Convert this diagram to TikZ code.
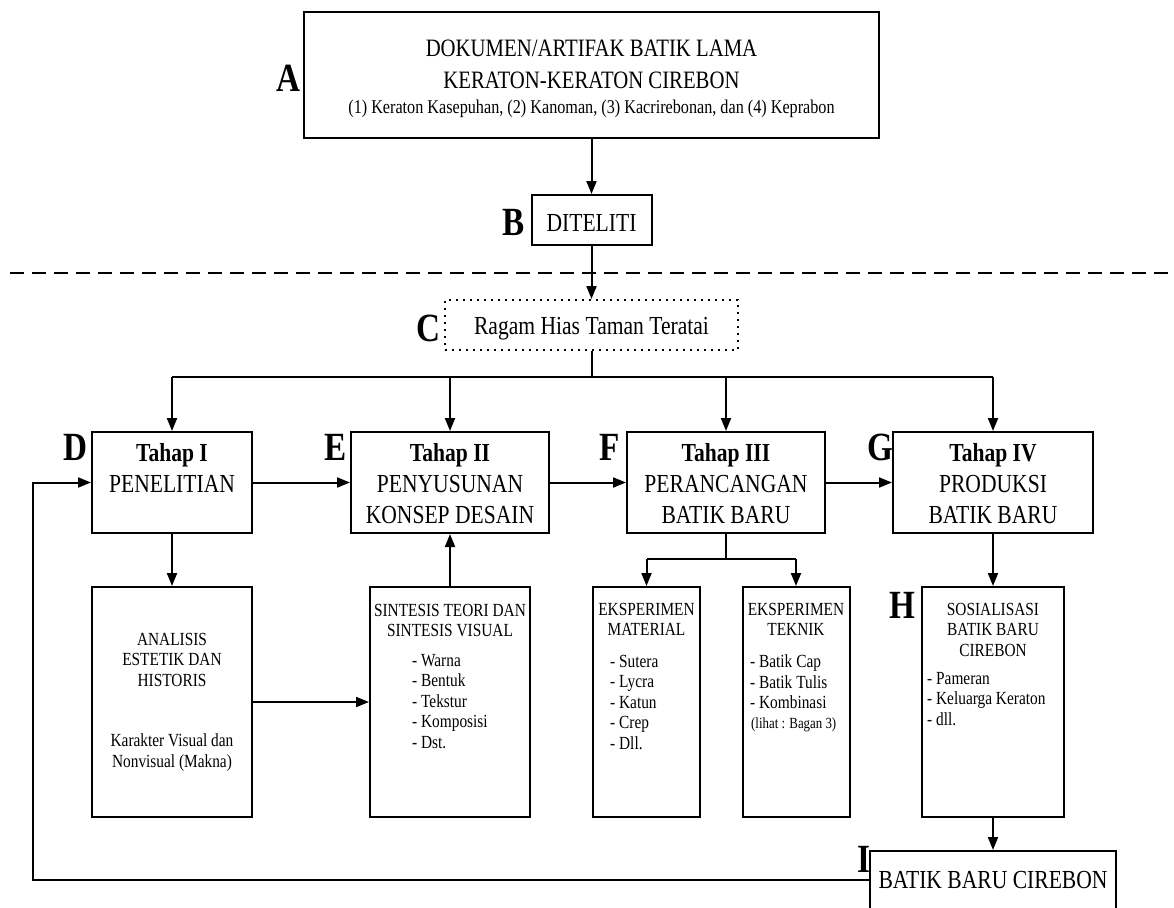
\documentclass[tikz,border=0pt]{standalone}
\usepackage{fontspec}
\setmainfont{Liberation Serif}[FakeStretch=0.83]
\usetikzlibrary{arrows.meta,positioning}

\begin{document}
\begin{tikzpicture}[x=1pt,y=-1pt,
    box/.style={draw,line width=2pt,inner sep=0pt},
    ln/.style={line width=2pt},
    arr/.style={line width=2pt,-{Triangle[length=13pt,width=10pt]}},
    tag/.style={font=\fontsize{40}{40}\selectfont\bfseries,inner sep=0pt,anchor=base},
    big/.style={font=\fontsize{26}{31}\selectfont,align=center,inner sep=0pt},
    small/.style={font=\fontsize{18.5}{20.5}\selectfont,inner sep=0pt}]
  \path[use as bounding box] (0,0) rectangle (1174,907);
  \clip (0,0) rectangle (1174,907);
  \fill[white] (0,0) rectangle (1174,907);

  \node[box,minimum width=575,minimum height=126] (dokumen) at (591.5,75) {};
  \node[big,font=\fontsize{25}{32}\selectfont,anchor=north] at (591.5,39.5) {DOKUMEN/ARTIFAK BATIK LAMA\\KERATON-KERATON CIREBON};
  \node[inner sep=0pt,anchor=base,font=\fontsize{19.5}{20}\selectfont] at (591.5,113.5) {(1) Keraton Kasepuhan, (2) Kanoman, (3) Kacrirebonan, dan (4) Keprabon};
  \node[tag] at (288,91) {A};

  \node[box,minimum width=120,minimum height=50] (diteliti) at (591.5,220) {};
  \node[big,anchor=base] at (591.5,231.5) {DITELITI};
  \node[tag] at (514,235) {B};

  \draw[line width=2pt,dash pattern=on 14pt off 8pt] (10,273) -- (1174,273);

  \node[box,dash pattern=on 2pt off 5pt,minimum width=293,minimum height=50] (ragam) at (591.5,325) {};
  \node[big,anchor=base] at (591.5,334.5) {Ragam Hias Taman Teratai};
  \node[tag] at (428,341) {C};

  \node[box,minimum width=160,minimum height=101] (penelitian) at (172,482.5) {};
  \node[big,anchor=north] at (172,443) {\textbf{Tahap I}\\PENELITIAN};
  \node[tag] at (75,460) {D};

  \node[box,minimum width=198,minimum height=101] (penyusunan) at (450,482.5) {};
  \node[big,anchor=north] at (450,443) {\textbf{Tahap II}\\PENYUSUNAN\\KONSEP DESAIN};
  \node[tag] at (336,460) {E};

  \node[box,minimum width=198,minimum height=101] (perancangan) at (726,482.5) {};
  \node[big,anchor=north] at (726,443) {\textbf{Tahap III}\\PERANCANGAN\\BATIK BARU};
  \node[tag] at (610,460) {F};

  \node[box,minimum width=200,minimum height=101] (produksi) at (993,482.5) {};
  \node[big,anchor=north] at (993,443) {\textbf{Tahap IV}\\PRODUKSI\\BATIK BARU};
  \node[tag] at (880,460) {G};

  \node[box,minimum width=160,minimum height=230] (analisis) at (172,702) {};
  \node[small,align=center,anchor=north] at (172,633) {ANALISIS\\ESTETIK DAN\\HISTORIS};
  \node[small,align=center,anchor=north] at (172,733.5) {Karakter Visual dan\\Nonvisual (Makna)};

  \node[box,minimum width=160,minimum height=230] (sintesis) at (450,702) {};
  \node[small,align=center,anchor=north] at (450,604) {SINTESIS TEORI DAN\\SINTESIS VISUAL};
  \node[small,align=left,anchor=north west] at (412,654) {- Warna\\- Bentuk\\- Tekstur\\- Komposisi\\- Dst.};

  \node[box,minimum width=107,minimum height=230] (material) at (646.5,702) {};
  \node[small,align=center,anchor=north] at (646.5,603) {EKSPERIMEN\\MATERIAL};
  \node[small,align=left,anchor=north west] at (610,655) {- Sutera\\- Lycra\\- Katun\\- Crep\\- Dll.};

  \node[box,minimum width=107,minimum height=230] (teknik) at (796,702) {};
  \node[small,align=center,anchor=north] at (796,603) {EKSPERIMEN\\TEKNIK};
  \node[small,align=left,anchor=north west] at (750,654.5) {- Batik Cap\\- Batik Tulis\\- Kombinasi};
  \node[inner sep=0pt,anchor=base west,font=\fontsize{15.5}{15.5}\selectfont] at (751,728) {(lihat : Bagan 3)};

  \node[box,minimum width=142,minimum height=230] (sosialisasi) at (993,702) {};
  \node[small,align=center,anchor=north] at (993,603) {SOSIALISASI\\BATIK BARU\\CIREBON};
  \node[small,align=left,anchor=north west] at (927,672) {- Pameran\\- Keluarga Keraton\\- dll.};
  \node[tag] at (902,618) {H};

  \node[box,minimum width=246,minimum height=58,font=\fontsize{26}{31}\selectfont] (batikbaru) at (993,880) {BATIK BARU CIREBON};
  \node[tag] at (864,872) {I};

  \coordinate (bus) at (591.5,377);
  \coordinate (fsplit) at (726,559);
  \coordinate (back) at (33,880);

  \draw[arr] (dokumen) -- (diteliti);
  \draw[arr] (diteliti) -- (ragam);
  \draw[ln] (ragam) -- (bus);
  \draw[ln] (penelitian.north |- bus) -- (produksi.north |- bus);
  \draw[arr] (penelitian.north |- bus) -- (penelitian.north);
  \draw[arr] (penyusunan.north |- bus) -- (penyusunan.north);
  \draw[arr] (perancangan.north |- bus) -- (perancangan.north);
  \draw[arr] (produksi.north |- bus) -- (produksi.north);
  \draw[arr] (penelitian) -- (penyusunan);
  \draw[arr] (penyusunan) -- (perancangan);
  \draw[arr] (perancangan) -- (produksi);
  \draw[arr] (penelitian) -- (analisis);
  \draw[arr] (sintesis) -- (penyusunan);
  \draw[arr] (analisis) -- (sintesis);
  \draw[ln] (perancangan) -- (fsplit);
  \draw[ln] (material.north |- fsplit) -- (teknik.north |- fsplit);
  \draw[arr] (material.north |- fsplit) -- (material);
  \draw[arr] (teknik.north |- fsplit) -- (teknik);
  \draw[arr] (produksi) -- (sosialisasi);
  \draw[arr] (sosialisasi) -- (batikbaru);
  \draw[arr] (batikbaru) -- (back) |- (penelitian);
\end{tikzpicture}
\end{document}
